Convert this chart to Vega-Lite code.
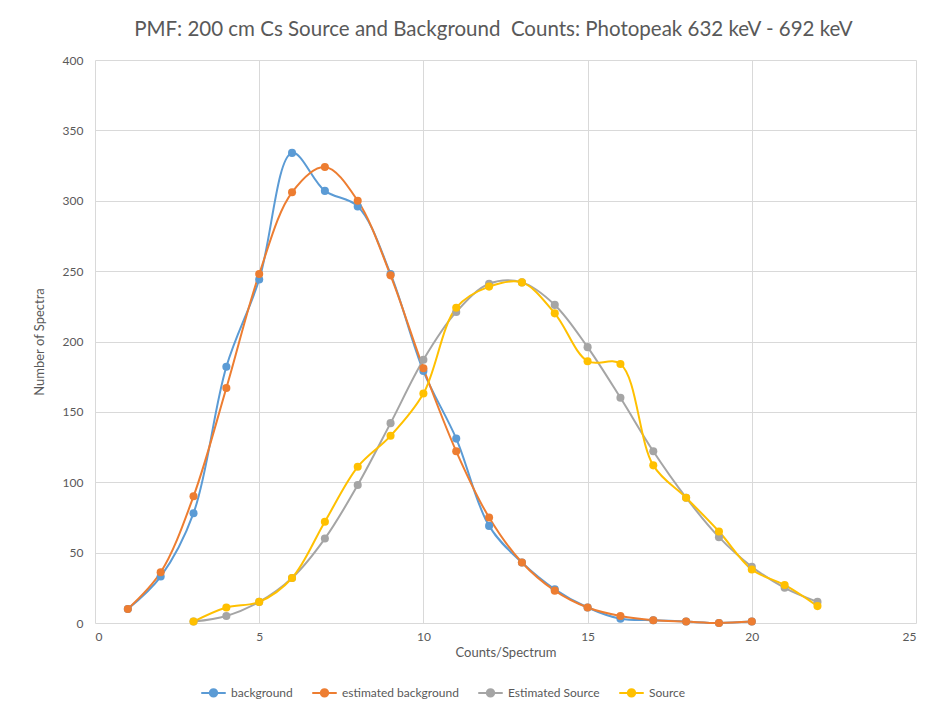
{
  "$schema": "https://vega.github.io/schema/vega-lite/v6.json",
  "autosize": {"type": "none"},
  "width": 821,
  "height": 563,
  "padding": {"left": 95, "top": 60, "right": 35, "bottom": 88},
  "background": "white",
  "title": {
    "text": "PMF: 200 cm Cs Source and Background\u00a0 Counts: Photopeak 632 keV - 692 keV",
    "font": "Lato",
    "fontSize": 20.5,
    "fontWeight": "normal",
    "color": "#595959",
    "anchor": "middle",
    "frame": "group",
    "dx": -12,
    "offset": 14
  },
  "config": {
    "view": {"stroke": null},
    "axis": {
      "labelFont": "Lato",
      "labelFontSize": 12,
      "labelColor": "#595959",
      "titleFont": "Lato",
      "titleFontSize": 13,
      "titleFontWeight": "normal",
      "titleColor": "#595959",
      "gridColor": "#d9d9d9",
      "ticks": false,
      "domain": false
    }
  },
  "data": {
    "values": [
      {"x": 1, "y": 10, "s": "background"},
      {"x": 2, "y": 33, "s": "background"},
      {"x": 3, "y": 78, "s": "background"},
      {"x": 4, "y": 182, "s": "background"},
      {"x": 5, "y": 244, "s": "background"},
      {"x": 6, "y": 334, "s": "background"},
      {"x": 7, "y": 307, "s": "background"},
      {"x": 8, "y": 296, "s": "background"},
      {"x": 9, "y": 248, "s": "background"},
      {"x": 10, "y": 179, "s": "background"},
      {"x": 11, "y": 131, "s": "background"},
      {"x": 12, "y": 69, "s": "background"},
      {"x": 13, "y": 43, "s": "background"},
      {"x": 14, "y": 24, "s": "background"},
      {"x": 15, "y": 11, "s": "background"},
      {"x": 16, "y": 3, "s": "background"},
      {"x": 17, "y": 2, "s": "background"},
      {"x": 18, "y": 1, "s": "background"},
      {"x": 19, "y": 0, "s": "background"},
      {"x": 20, "y": 1, "s": "background"},
      {"x": 1, "y": 10, "s": "estimated background"},
      {"x": 2, "y": 36, "s": "estimated background"},
      {"x": 3, "y": 90, "s": "estimated background"},
      {"x": 4, "y": 167, "s": "estimated background"},
      {"x": 5, "y": 248, "s": "estimated background"},
      {"x": 6, "y": 306, "s": "estimated background"},
      {"x": 7, "y": 324, "s": "estimated background"},
      {"x": 8, "y": 300, "s": "estimated background"},
      {"x": 9, "y": 247, "s": "estimated background"},
      {"x": 10, "y": 181, "s": "estimated background"},
      {"x": 11, "y": 122, "s": "estimated background"},
      {"x": 12, "y": 75, "s": "estimated background"},
      {"x": 13, "y": 43, "s": "estimated background"},
      {"x": 14, "y": 23, "s": "estimated background"},
      {"x": 15, "y": 11, "s": "estimated background"},
      {"x": 16, "y": 5, "s": "estimated background"},
      {"x": 17, "y": 2, "s": "estimated background"},
      {"x": 18, "y": 1, "s": "estimated background"},
      {"x": 19, "y": 0, "s": "estimated background"},
      {"x": 20, "y": 1, "s": "estimated background"},
      {"x": 3, "y": 1, "s": "Estimated Source"},
      {"x": 4, "y": 5, "s": "Estimated Source"},
      {"x": 5, "y": 15, "s": "Estimated Source"},
      {"x": 6, "y": 32, "s": "Estimated Source"},
      {"x": 7, "y": 60, "s": "Estimated Source"},
      {"x": 8, "y": 98, "s": "Estimated Source"},
      {"x": 9, "y": 142, "s": "Estimated Source"},
      {"x": 10, "y": 187, "s": "Estimated Source"},
      {"x": 11, "y": 221, "s": "Estimated Source"},
      {"x": 12, "y": 241, "s": "Estimated Source"},
      {"x": 13, "y": 242, "s": "Estimated Source"},
      {"x": 14, "y": 226, "s": "Estimated Source"},
      {"x": 15, "y": 196, "s": "Estimated Source"},
      {"x": 16, "y": 160, "s": "Estimated Source"},
      {"x": 17, "y": 122, "s": "Estimated Source"},
      {"x": 18, "y": 89, "s": "Estimated Source"},
      {"x": 19, "y": 61, "s": "Estimated Source"},
      {"x": 20, "y": 40, "s": "Estimated Source"},
      {"x": 21, "y": 25, "s": "Estimated Source"},
      {"x": 22, "y": 15, "s": "Estimated Source"},
      {"x": 3, "y": 1, "s": "Source"},
      {"x": 4, "y": 11, "s": "Source"},
      {"x": 5, "y": 15, "s": "Source"},
      {"x": 6, "y": 32, "s": "Source"},
      {"x": 7, "y": 72, "s": "Source"},
      {"x": 8, "y": 111, "s": "Source"},
      {"x": 9, "y": 133, "s": "Source"},
      {"x": 10, "y": 163, "s": "Source"},
      {"x": 11, "y": 224, "s": "Source"},
      {"x": 12, "y": 239, "s": "Source"},
      {"x": 13, "y": 242, "s": "Source"},
      {"x": 14, "y": 220, "s": "Source"},
      {"x": 15, "y": 186, "s": "Source"},
      {"x": 16, "y": 184, "s": "Source"},
      {"x": 17, "y": 112, "s": "Source"},
      {"x": 18, "y": 89, "s": "Source"},
      {"x": 19, "y": 65, "s": "Source"},
      {"x": 20, "y": 38, "s": "Source"},
      {"x": 21, "y": 27, "s": "Source"},
      {"x": 22, "y": 12, "s": "Source"}
    ]
  },
  "mark": {
    "type": "line",
    "interpolate": "catmull-rom",
    "strokeWidth": 2,
    "point": {"filled": true, "size": 65}
  },
  "encoding": {
    "x": {
      "field": "x",
      "type": "quantitative",
      "scale": {"domain": [0, 25], "nice": false},
      "axis": {"values": [0, 5, 10, 15, 20, 25], "title": "Counts/Spectrum", "labelPadding": 8, "titlePadding": 4}
    },
    "y": {
      "field": "y",
      "type": "quantitative",
      "scale": {"domain": [0, 400], "nice": false},
      "axis": {"values": [0, 50, 100, 150, 200, 250, 300, 350, 400], "title": "Number of Spectra", "labelPadding": 12, "titlePadding": 16}
    },
    "color": {
      "field": "s",
      "type": "nominal",
      "scale": {
        "domain": ["background", "estimated background", "Estimated Source", "Source"],
        "range": ["#5B9BD5", "#ED7D31", "#A5A5A5", "#FFC000"]
      },
      "legend": {
        "orient": "none",
        "legendX": 105,
        "legendY": 619,
        "direction": "horizontal",
        "title": null,
        "labelFont": "Lato",
        "labelFontSize": 12,
        "labelColor": "#595959",
        "columnPadding": 15,
        "symbolType": "M-1,0H1M0.3,0A0.3,0.3 0 1,1 -0.3,0A0.3,0.3 0 1,1 0.3,0",
        "symbolSize": 600,
        "symbolStrokeWidth": 2
      }
    },
    "order": {"field": "x", "type": "quantitative"}
  }
}
